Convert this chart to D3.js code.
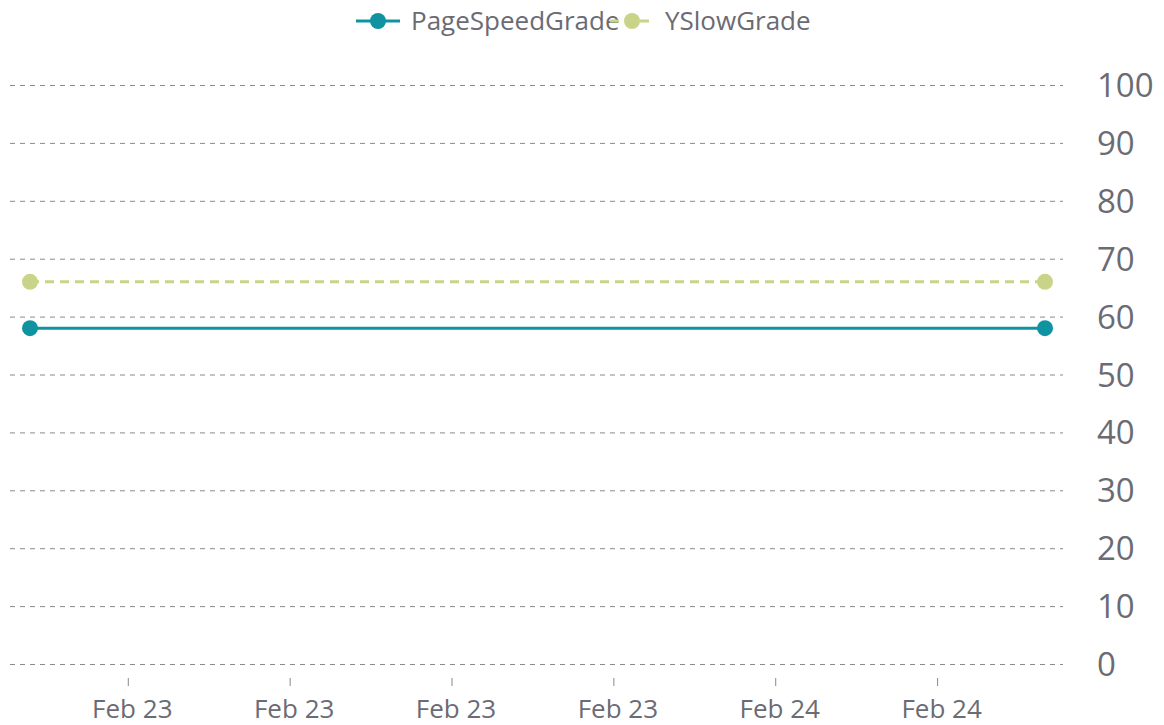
<!DOCTYPE html>
<html>
<head>
<meta charset="utf-8">
<script src="https://cdn.jsdelivr.net/npm/d3@7"></script>
<style>
  body { margin: 0; background: #fff; }
  svg { display: block; font-family: "Open Sans", sans-serif; }
</style>
</head>
<body>
<svg id="chart" width="1164" height="725"></svg>
<script>
// data
var dates = ["2016-02-23T05:35", "2016-02-24T06:40"];
var pageSpeedGrade = [58, 58];
var ySlowGrade = [66, 66];
var yTicks = [0, 10, 20, 30, 40, 50, 60, 70, 80, 90, 100];
var seriesNames = ["PageSpeedGrade", "YSlowGrade"];
var seriesColors = ["#0f93a1", "#c9d488"];

var parse = d3.timeParse("%Y-%m-%dT%H:%M");
var times = dates.map(parse);

var svg = d3.select("#chart");
var textColor = "#6b6b73";

var x = d3.scaleTime()
    .domain(d3.extent(times))
    .range([30, 1045]);

var y = d3.scaleLinear()
    .domain([0, 100])
    .range([664, 85]);

// grid
svg.append("g")
    .selectAll("line")
    .data(yTicks)
    .enter().append("line")
    .attr("x1", 10)
    .attr("x2", 1063)
    .attr("y1", function(d) { return y(d) + 0.5 })
    .attr("y2", function(d) { return y(d) + 0.5 })
    .attr("stroke", "#8a8a8a")
    .attr("stroke-width", 1)
    .attr("stroke-dasharray", "5,5");

// y axis labels on the right
var yAxis = svg.append("g")
    .attr("transform", "translate(1063,0)")
    .call(d3.axisRight(y).tickValues(yTicks).tickSize(0).tickPadding(34));
yAxis.attr("font-family", null);
yAxis.select(".domain").remove();
yAxis.selectAll("text")
    .attr("fill", textColor)
    .style("font-size", "33px")
    .attr("dy", "0.35em");

// x axis
var xAxis = svg.append("g")
    .attr("transform", "translate(0,678)")
    .call(d3.axisBottom(x).ticks(d3.timeHour.every(4)).tickFormat(d3.timeFormat("%b %d")).tickSize(8).tickPadding(14));
xAxis.attr("font-family", null);
xAxis.select(".domain").remove();
xAxis.selectAll(".tick line").attr("stroke", "#8a8a8a");
xAxis.selectAll("text")
    .attr("fill", textColor)
    .attr("dx", "4")
    .style("font-size", "26px");

// series
var series = [pageSpeedGrade, ySlowGrade];
var line = d3.line()
    .x(function(d, i) { return x(times[i]) })
    .y(function(d) { return y(d) });

series.forEach(function(values, s) {
    var g = svg.append("g");
    g.append("path")
        .datum(values)
        .attr("fill", "none")
        .attr("stroke", seriesColors[s])
        .attr("stroke-width", 3)
        .attr("stroke-dasharray", s == 1 ? "9,6" : null)
        .attr("d", line);
    g.selectAll("circle")
        .data(values)
        .enter().append("circle")
        .attr("cx", function(d, i) { return x(times[i]) })
        .attr("cy", function(d) { return y(d) })
        .attr("r", 8)
        .attr("fill", seriesColors[s]);
});

// legend
var legendX = [356, 610];
var legend = svg.append("g");
seriesNames.forEach(function(name, s) {
    var lg = legend.append("g").attr("transform", "translate(" + legendX[s] + ",21)");
    lg.append("line")
        .attr("x1", 0).attr("x2", 44)
        .attr("stroke", seriesColors[s])
        .attr("stroke-width", 3)
        .attr("stroke-dasharray", s == 1 ? "9,6" : null);
    lg.append("circle")
        .attr("cx", 22).attr("r", 8)
        .attr("fill", seriesColors[s]);
    lg.append("text")
        .attr("x", 55)
        .attr("dy", "0.36em")
        .attr("fill", textColor)
        .style("font-size", "26px")
        .text(name);
});
</script>
</body>
</html>
